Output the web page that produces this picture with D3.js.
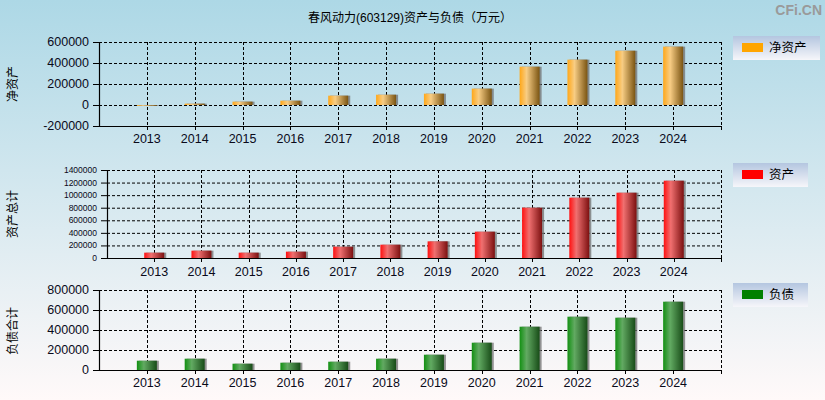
<!DOCTYPE html>
<html>
<head>
<meta charset="utf-8">
<script src="https://cdn.jsdelivr.net/npm/d3@7"></script>
<style>
html,body{margin:0;padding:0;}
svg{display:block;}
text{font-family:"Liberation Sans",Arial,"Noto Sans CJK SC",sans-serif;}
</style>
</head>
<body>
<svg id="chart" width="825" height="400"></svg>
<script>
const title = "春风动力(603129)资产与负债（万元）";
const years = ["2013","2014","2015","2016","2017","2018","2019","2020","2021","2022","2023","2024"];
const netAssets = [-8000, 13000, 32000, 41000, 89000, 98000, 108000, 156000, 365000, 432000, 517000, 556000];
const totalAssets = [85000, 117000, 85000, 101000, 180000, 212000, 265000, 419000, 801000, 960000, 1039000, 1230000];
const liabilities = [93000, 113000, 63000, 73000, 83000, 113000, 153000, 273000, 433000, 533000, 523000, 683000];
const netTicks = [-200000, 0, 200000, 400000, 600000];
const assetTicks = [0, 200000, 400000, 600000, 800000, 1000000, 1200000, 1400000];
const liabTicks = [0, 200000, 400000, 600000, 800000];
const axisTitles = ["净资产", "资产总计", "负债合计"];
const legendNames = ["净资产", "资产", "负债"];

const svg = d3.select("#chart");
const W = 825, H = 400;
const defs = svg.append("defs");

// background
const bg = defs.append("linearGradient").attr("id","bg").attr("x1",0).attr("y1",0).attr("x2",0).attr("y2",1);
bg.append("stop").attr("offset","0%").attr("stop-color","#add8e6");
bg.append("stop").attr("offset","100%").attr("stop-color","#fff9f9");
svg.append("rect").attr("width",W).attr("height",H).attr("fill","url(#bg)");

const lg = defs.append("linearGradient").attr("id","legbg").attr("x1",0).attr("y1",0).attr("x2",0).attr("y2",1);
lg.append("stop").attr("offset","0%").attr("stop-color","#b4c6e0");
lg.append("stop").attr("offset","100%").attr("stop-color","#f6f6fa");

function barGrad(id, c0, c1, c2) {
  const g = defs.append("linearGradient").attr("id",id).attr("x1",0).attr("y1",0).attr("x2",1).attr("y2",0);
  g.append("stop").attr("offset","0%").attr("stop-color",c0);
  g.append("stop").attr("offset","35%").attr("stop-color",c1);
  g.append("stop").attr("offset","100%").attr("stop-color",c2);
}
barGrad("gOrange","#ffa718","#f8cd84","#7a5412");
barGrad("gRed","#ff1010","#f07070","#7c1010");
barGrad("gGreen","#129012","#62aa62","#184c18");

// title + watermark
svg.append("text").attr("x",410).attr("y",22).attr("text-anchor","middle")
  .attr("font-size",12).attr("fill","#000").text(title);
svg.append("text").attr("x",822).attr("y",15).attr("text-anchor","end")
  .attr("font-size",14).attr("font-weight","bold").attr("fill","#9a9a9a").text("CFi.CN");

const panels = [
  {values:netAssets, ticks:netTicks, left:99, right:721, top:42, bottom:126, tickFont:12.5, grad:"gOrange", color:"#ffa500",
   title:axisTitles[0], titleY:84, legend:legendNames[0], leg:{x:733,y:36,w:87,h:24}, yearY:143},
  {values:totalAssets, ticks:assetTicks, left:107, right:721, top:170, bottom:258, tickFont:8.5, grad:"gRed", color:"#ff0000",
   title:axisTitles[1], titleY:214, legend:legendNames[1], leg:{x:733,y:163,w:75,h:24}, yearY:276},
  {values:liabilities, ticks:liabTicks, left:99, right:721, top:290, bottom:370, tickFont:12.5, grad:"gGreen", color:"#008000",
   title:axisTitles[2], titleY:331, legend:legendNames[2], leg:{x:733,y:283,w:75,h:24}, yearY:387}
];

panels.forEach(p => {
  const g = svg.append("g");
  const x = d3.scaleLinear().domain([-1, years.length]).range([p.left, p.right]);
  const y = d3.scaleLinear().domain([d3.min(p.ticks), d3.max(p.ticks)]).range([p.bottom, p.top]);

  // horizontal grid (dashed), excluding bottom
  g.selectAll(".hg").data(p.ticks.filter(t => t !== d3.min(p.ticks))).enter().append("line")
    .attr("x1",p.left).attr("x2",p.right).attr("y1",d=>y(d)+0.5).attr("y2",d=>y(d)+0.5)
    .attr("stroke","#000").attr("stroke-width",1).attr("stroke-dasharray","3,2");
  // vertical grid at categories + right edge
  const vx = years.map((d,i)=>x(i)).concat([p.right]);
  g.selectAll(".vg").data(vx).enter().append("line")
    .attr("x1",d=>Math.round(d)+0.5).attr("x2",d=>Math.round(d)+0.5).attr("y1",p.top).attr("y2",p.bottom)
    .attr("stroke","#000").attr("stroke-width",1).attr("stroke-dasharray","3,2");

  // bars
  const bw = 20;
  g.selectAll(".sh").data(p.values).enter().append("rect")
    .attr("x",(d,i)=>x(i)-bw/2+2).attr("width",bw)
    .attr("y",d=>Math.min(y(d),y(0))).attr("height",d=>Math.abs(y(d)-y(0)))
    .attr("fill","#707070").attr("opacity",0.75);
  g.selectAll(".bar").data(p.values).enter().append("rect")
    .attr("x",(d,i)=>x(i)-bw/2).attr("width",bw)
    .attr("y",d=>Math.min(y(d),y(0))).attr("height",d=>Math.abs(y(d)-y(0)))
    .attr("fill","url(#"+p.grad+")");

  // axes
  g.append("line").attr("x1",p.left+0.5).attr("x2",p.left+0.5).attr("y1",p.top).attr("y2",p.bottom+0.5)
    .attr("stroke","#000").attr("stroke-width",1.2);
  g.append("line").attr("x1",p.left).attr("x2",p.right+0.5).attr("y1",p.bottom+0.5).attr("y2",p.bottom+0.5)
    .attr("stroke","#000").attr("stroke-width",1.2);
  // y ticks
  g.selectAll(".yt").data(p.ticks).enter().append("line")
    .attr("x1",p.left-6).attr("x2",p.left).attr("y1",d=>y(d)+0.5).attr("y2",d=>y(d)+0.5)
    .attr("stroke","#000").attr("stroke-width",1);
  g.selectAll(".yl").data(p.ticks).enter().append("text")
    .attr("x",p.left-10).attr("y",d=>y(d)).attr("dy","0.35em").attr("text-anchor","end")
    .attr("font-size",p.tickFont).attr("fill","#0a0a1a").text(d=>d);
  // x ticks
  g.selectAll(".xt").data(vx).enter().append("line")
    .attr("x1",d=>Math.round(d)+0.5).attr("x2",d=>Math.round(d)+0.5).attr("y1",p.bottom).attr("y2",p.bottom+4)
    .attr("stroke","#000").attr("stroke-width",1);
  g.selectAll(".xl").data(years).enter().append("text")
    .attr("x",(d,i)=>x(i)).attr("y",p.yearY).attr("text-anchor","middle")
    .attr("font-size",12.5).attr("fill","#0a0a1a").text(d=>d);

  // axis title rotated
  svg.append("text").attr("transform","translate(17,"+p.titleY+") rotate(-90)")
    .attr("text-anchor","middle").attr("font-size",12).attr("fill","#000").text(p.title);

  // legend
  const L = p.leg;
  svg.append("rect").attr("x",L.x).attr("y",L.y).attr("width",L.w).attr("height",L.h).attr("fill","url(#legbg)");
  svg.append("rect").attr("x",L.x+9).attr("y",L.y+7).attr("width",21).attr("height",9).attr("fill",p.color);
  svg.append("text").attr("x",L.x+36).attr("y",L.y+16).attr("font-size",12.5).attr("fill","#000").text(p.legend);
});
</script>
</body>
</html>
